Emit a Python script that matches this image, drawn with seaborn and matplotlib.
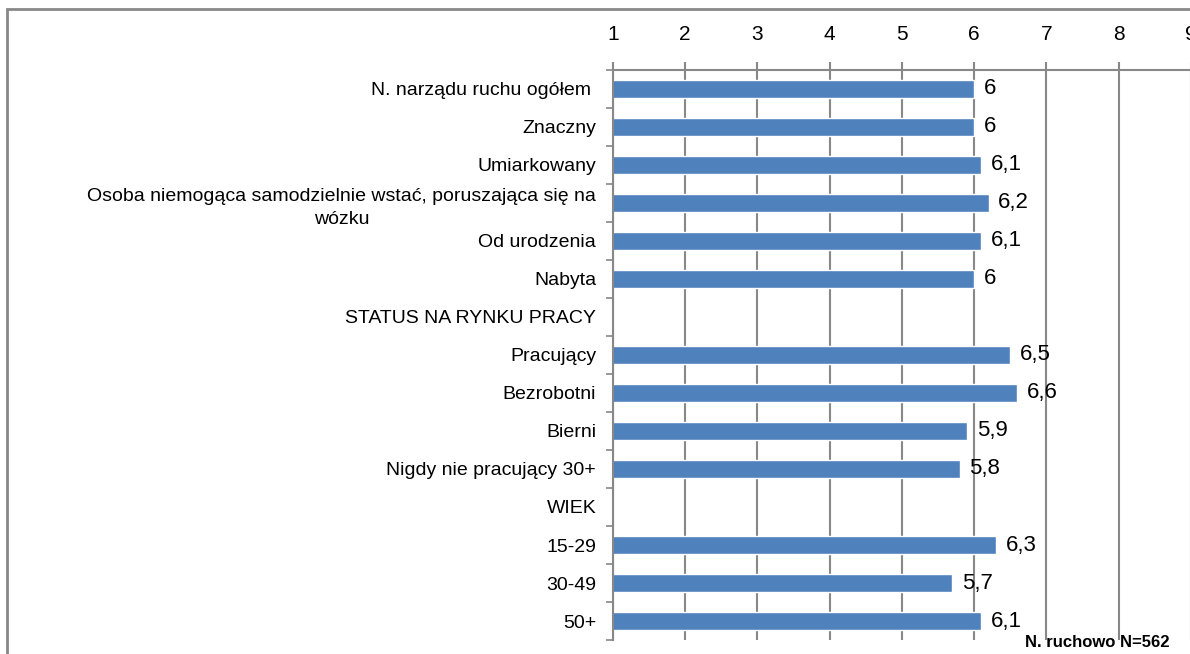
import matplotlib

matplotlib.use("Agg")

import matplotlib.pyplot as plt
import numpy as np
import pandas as pd
import seaborn as sns
from matplotlib.patches import Rectangle
from matplotlib.ticker import FixedLocator

CATEGORIES = [
    "N. narządu ruchu ogółem ",
    "Znaczny",
    "Umiarkowany",
    "Osoba niemogąca samodzielnie wstać, poruszająca się na\nwózku",
    "Od urodzenia",
    "Nabyta",
    "STATUS NA RYNKU PRACY",
    "Pracujący",
    "Bezrobotni",
    "Bierni",
    "Nigdy nie pracujący 30+",
    "WIEK",
    "15-29",
    "30-49",
    "50+",
]
VALUES = [6.0, 6.0, 6.1, 6.2, 6.1, 6.0, np.nan, 6.5, 6.6, 5.9, 5.8, np.nan, 6.3, 5.7, 6.1]
X_TICKS = [1, 2, 3, 4, 5, 6, 7, 8, 9]
NOTE = "N. ruchowo N=562"

BAR_COLOR = "#4F81BD"
GRID_COLOR = "#888888"

sns.set_style("white")
plt.rcParams["font.family"] = ["Liberation Sans", "DejaVu Sans"]
plt.rcParams["text.color"] = "black"
plt.rcParams["xtick.labelcolor"] = "black"
plt.rcParams["ytick.labelcolor"] = "black"

df = pd.DataFrame({"kategoria": CATEGORIES, "wartosc": VALUES})

fig = plt.figure(figsize=(11.9, 6.54), dpi=100)
ax = fig.add_axes([0.515, 0.0214, 0.4857, 0.8716])

sns.barplot(
    data=df,
    x="wartosc",
    y="kategoria",
    order=CATEGORIES,
    orient="h",
    color=BAR_COLOR,
    saturation=1,
    width=0.47,
    ax=ax,
)

ax.set_xlim(X_TICKS[0], X_TICKS[-1])
ax.set_ylim(len(CATEGORIES) - 0.5, -0.5)
ax.set_xticks(X_TICKS)
ax.xaxis.tick_top()
ax.tick_params(axis="x", which="major", direction="out", length=6, width=1.5, color=GRID_COLOR,
               labelsize=15, pad=13, labelcolor="black")
ax.tick_params(axis="y", which="major", length=0, labelsize=14, pad=12, labelcolor="black")
ax.yaxis.set_minor_locator(FixedLocator(np.arange(-0.5, len(CATEGORIES), 1.0)))
ax.tick_params(axis="y", which="minor", direction="out", length=5, width=1.2, color=GRID_COLOR, left=True)
ax.grid(axis="x", color=GRID_COLOR, linewidth=1.5)
ax.set_axisbelow(True)
ax.set_xlabel("")
ax.set_ylabel("")

for name in ["right", "bottom"]:
    ax.spines[name].set_visible(False)
for name in ["top", "left"]:
    ax.spines[name].set_color(GRID_COLOR)
    ax.spines[name].set_linewidth(1.5)

for label in ax.get_yticklabels():
    if "\n" in label.get_text():
        label.set_multialignment("center")
        label.set_linespacing(1.5)

for i, v in enumerate(VALUES):
    if np.isnan(v):
        continue
    ax.annotate(
        f"{v:g}".replace(".", ","),
        xy=(v, i),
        xytext=(7, 0),
        textcoords="offset points",
        va="center",
        ha="left",
        fontsize=16,
        color="black",
    )

fig.text(0.983, 0.018, NOTE, ha="right", va="center", fontsize=12, fontweight="bold", color="black")

fig.patches.append(
    Rectangle((7 / 1190, -0.1), 1.2, 1.1 - 9 / 654, transform=fig.transFigure,
              fill=False, edgecolor=GRID_COLOR, linewidth=2)
)

fig.savefig("out.png", dpi=100)
plt.close(fig)
